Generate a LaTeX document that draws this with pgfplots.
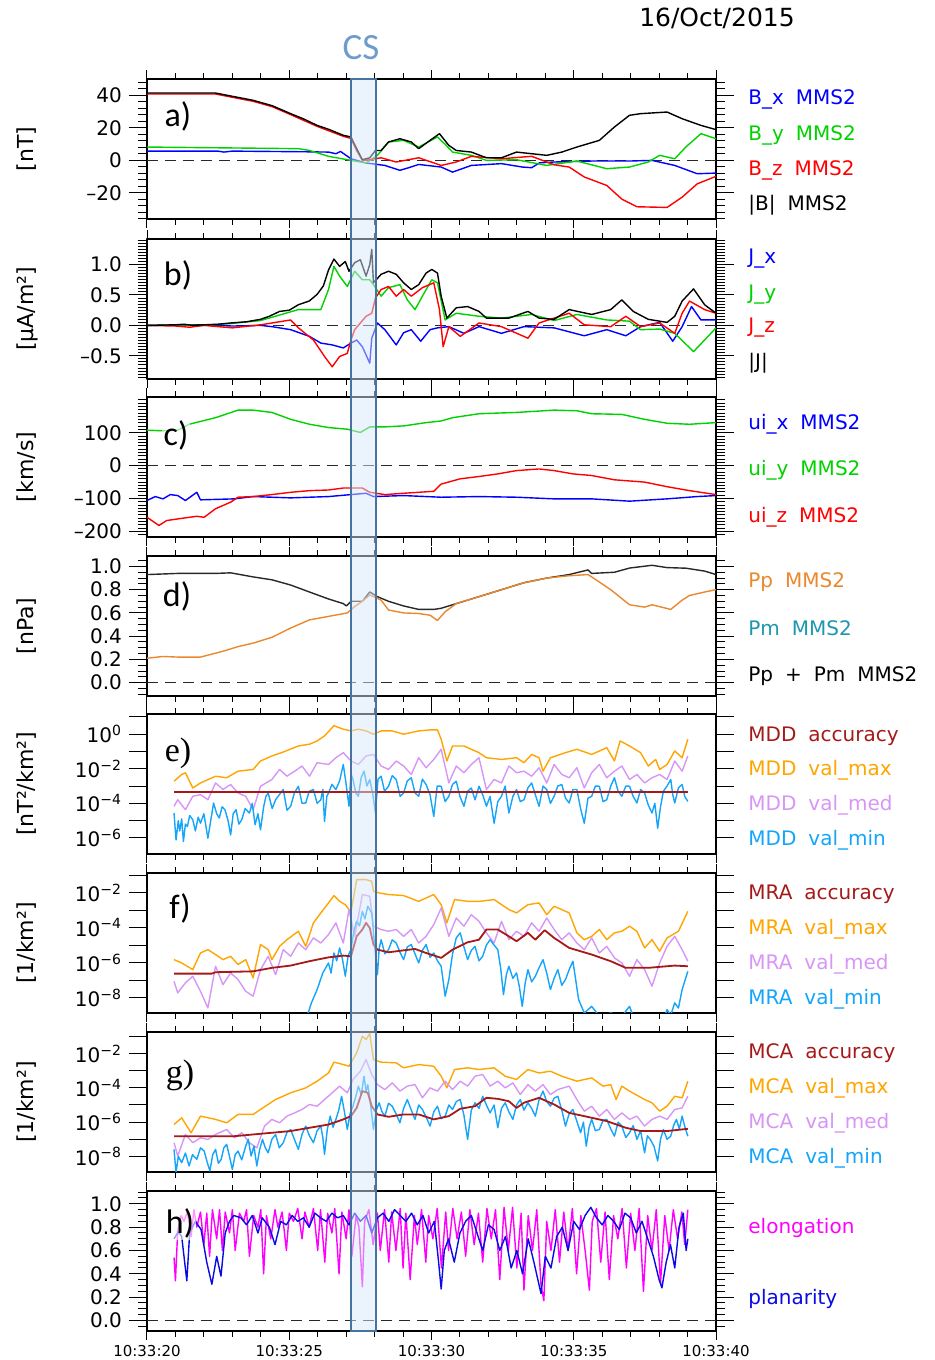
\documentclass[border=0pt]{standalone}
\usepackage{pgfplots}
\pgfplotsset{compat=1.18}
\usepackage{fontspec}
\setmainfont{DejaVu Sans}
\newfontfamily\carlito{Carlito}
\newfontfamily\lserif{Liberation Serif}
\definecolor{bblue}{RGB}{0,0,255}
\definecolor{bgreen}{RGB}{0,210,0}
\definecolor{bred}{RGB}{255,0,0}
\definecolor{pporange}{RGB}{235,135,45}
\definecolor{pmteal}{RGB}{30,150,175}
\definecolor{accred}{RGB}{165,25,25}
\definecolor{vmax}{RGB}{255,165,0}
\definecolor{vmed}{RGB}{215,150,245}
\definecolor{vmin}{RGB}{20,165,250}
\definecolor{elong}{RGB}{255,0,255}
\definecolor{plan}{RGB}{10,10,230}
\definecolor{csblue}{RGB}{70,115,160}
\definecolor{csfill}{RGB}{215,232,250}
\definecolor{cstext}{RGB}{110,155,205}
\definecolor{dgray}{RGB}{40,40,40}
\pgfplotsset{
 panel/.style={
  scale only axis, width=284.5pt, height=70pt,
  xmin=0, xmax=20,
  xtick={0,5,10,15,20},
  minor xtick={1,2,3,4,6,7,8,9,11,12,13,14,16,17,18,19},
  xticklabels={},
  tick align=outside,
  major tick length=9pt, minor tick length=4.5pt,
  xtick style={/pgfplots/major tick length=4.5pt,/pgfplots/minor tick length=3pt},
  every tick/.style={black, line width=0.5pt},
  axis line style={line width=0.8pt},
  yticklabel style={font=\fontsize{10}{12}\selectfont},
  xticklabel style={font=\fontsize{7.5}{9}\selectfont, yshift=5.5pt},
  ylabel style={at={(axis description cs:-0.2109,0.5)}, anchor=center, font=\fontsize{11}{13}\selectfont},
  no markers, line join=round,
  every axis plot/.append style={line width=0.7pt},
 },
 zeroline/.style={dgray, line width=0.8pt, dash pattern=on 5.5pt off 3.5pt},
 logpanel/.style={panel},
}
\newcommand{\lab}[3]{\node[anchor=west, inner sep=0pt, text=#1, font=\fontsize{10}{12}\selectfont] at (374pt,#2pt) {#3};}
\newcommand{\plet}[4]{\node[inner sep=1pt, fill=white, fill opacity=0.6, text opacity=1, font=#4\fontsize{17}{19}\selectfont] at (#1pt,#2pt) {#3};}
\begin{document}
\begin{tikzpicture}
\path[use as bounding box] (0,0) rectangle (467pt,680pt);

% ---------------- a
\begin{axis}[panel, at={(73.5pt,570.5pt)}, anchor=south west,
 ymin=-36, ymax=50, ytick={-20,0,20,40}, yticklabels={–20,0,20,40},
 minor ytick={-36,-32,...,48}, ylabel={[nT]}]
\addplot[zeroline] coordinates {(0,0) (20,0)};
\addplot[bblue] coordinates {(0,5.7)(2.5,5.7)(2.7,5.1)(3,5.7)(5.5,5.3)(6.38,5.1)(6.64,4.1)(6.8,5.5)(7.17,1)(7.70,-1.6)(8.36,-3.1)(8.89,-6.1)(9.2,-4.5)(9.55,-2.5)(10.34,-4.1)(10.74,-7.2)(11.40,-3.1)(12.46,-2)(13.2,-4.1)(13.52,-4.5)(13.8,-1.5)(14.31,-1)(15.63,-0.4)(16.96,-0.4)(17.75,0)(18.55,-3.1)(19.34,-8.2)(20,-7.8)};
\addplot[bgreen] coordinates {(0,8.2)(5.32,7.2)(5.71,6.1)(6.38,2.5)(7.17,0)(7.70,-1.6)(8.10,3.1)(8.49,11.3)(9.02,12.3)(9.55,8.2)(10.21,14.4)(10.5,9.5)(10.74,5.1)(11.40,3.1)(11.93,0)(12.99,0.4)(14.05,-3.1)(15.11,-0.4)(16.16,-5.1)(16.96,-4.1)(17.62,-1)(18.02,3.1)(18.55,1)(18.94,8.2)(19.47,16.4)(20,13.3)};
\addplot[bred] coordinates {(0,40.8)(2.4,40.8)(3.73,36.3)(4.4,33)(5.05,28.1)(5.98,20.9)(6.9,14.8)(7.17,13.5)(7.37,6)(7.57,0)(7.83,0.5)(8.23,1.6)(8.76,-1)(9.55,1.6)(10.34,-3.1)(10.87,-1)(11.40,2.5)(12.46,1)(13.52,2.5)(14.31,-2.7)(14.84,-4.1)(15.37,-10.2)(16.16,-15.4)(16.69,-23.8)(17.22,-28.5)(18.28,-28.9)(18.81,-22.6)(19.34,-14.4)(20,-9.8)};
\addplot[black] coordinates {(0,41.4)(2.4,41.4)(3.73,36.9)(4.4,33.6)(5.05,28.7)(5.5,25.5)(5.98,21.5)(6.4,19)(6.90,15.4)(7.17,14.4)(7.37,7.2)(7.57,0.4)(7.83,1.6)(8.03,6.1)(8.23,6.1)(8.49,11.3)(8.89,13.3)(9.29,11.3)(9.55,7.2)(9.95,12.3)(10.28,16.4)(10.61,9.2)(10.87,6.1)(11.40,5.1)(11.93,1.6)(12.46,1.6)(12.99,5.1)(13.52,4.1)(14.05,3.1)(14.58,5.1)(15.11,8.2)(15.90,12.3)(16.43,20.5)(16.96,27.7)(17.35,28.7)(18.28,29.7)(18.81,25.6)(19.47,21.5)(20,18.9)};
\end{axis}

% ---------------- b
\begin{axis}[panel, at={(73.5pt,490.5pt)}, anchor=south west,
 ymin=-0.88, ymax=1.42, ytick={-0.5,0,0.5,1}, yticklabels={–0.5,0.0,0.5,1.0},
 minor ytick={-0.85,-0.8,...,1.4}, ylabel={[μA/m²]}]
\addplot[zeroline] coordinates {(0,0) (20,0)};
\addplot[bblue] coordinates {(0,0)(2,0.01)(3,-0.01)(4,0)(4.39,-0.02)(5.05,-0.07)(5.71,-0.18)(6.11,-0.29)(6.51,-0.32)(6.90,-0.37)(7.17,-0.29)(7.37,-0.24)(7.57,-0.35)(7.83,-0.62)(7.90,-0.21)(8.10,0.04)(8.36,-0.07)(8.76,-0.32)(9.02,-0.12)(9.29,-0.07)(9.62,-0.26)(9.95,-0.07)(10.21,-0.04)(10.61,-0.02)(11.14,-0.13)(11.67,-0.02)(12.46,-0.13)(13.25,-0.02)(14.31,-0.04)(15.37,-0.17)(16.16,-0.07)(16.83,-0.17)(17.35,-0.02)(18.02,0.05)(18.48,-0.26)(18.81,-0.02)(19.14,0.31)(19.47,0.09)(20,0.09)};
\addplot[bgreen] coordinates {(0,0)(1,0.01)(2,0)(2.94,0.03)(3.99,0.08)(5.32,0.26)(6.11,0.26)(6.38,0.59)(6.57,0.97)(6.77,0.81)(7.04,0.64)(7.30,0.89)(7.57,0.75)(7.83,0.75)(7.96,0.67)(8.23,0.48)(8.49,0.62)(8.89,0.67)(9.15,0.42)(9.42,0.26)(9.68,0.48)(10.01,0.75)(10.21,0.70)(10.48,0.09)(10.87,0.2)(11.67,0.15)(12.46,0.12)(13.52,0.18)(14.31,0.08)(15.11,0.18)(16.16,0.09)(16.96,0.07)(17.35,-0.07)(18.02,-0.06)(18.55,-0.13)(19.21,-0.43)(19.60,-0.24)(20,-0.04)};
\addplot[bred] coordinates {(0,0)(1,-0.01)(1.5,-0.03)(2,0)(3,-0.04)(3.99,0.01)(4.39,0.04)(5.05,0.09)(5.32,-0.04)(5.85,-0.24)(6.24,-0.51)(6.51,-0.68)(6.77,-0.51)(7.04,-0.46)(7.17,-0.24)(7.30,-0.07)(7.70,0.15)(7.90,0.2)(8.03,0.45)(8.23,0.59)(8.49,0.64)(8.76,0.48)(9.02,0.59)(9.29,0.48)(9.68,0.62)(10.08,0.70)(10.28,0.26)(10.41,-0.35)(10.61,-0.02)(11.01,-0.18)(11.67,0.04)(12.46,-0.02)(13.39,-0.21)(13.78,0.04)(14.84,0.2)(15.37,0.01)(16.30,-0.02)(16.83,0.15)(17.35,-0.02)(18.02,0.04)(18.55,-0.13)(18.81,0.20)(19.07,0.4)(19.60,0.26)(20,0.2)};
\addplot[black] coordinates {(0,0)(1,0.01)(1.3,0.02)(1.6,0)(2,0.01)(2.5,0.02)(2.94,0.04)(3.5,0.06)(3.99,0.1)(4.3,0.15)(4.66,0.23)(5.0,0.25)(5.32,0.34)(5.7,0.4)(5.98,0.51)(6.2,0.65)(6.38,0.91)(6.57,1.09)(6.77,0.97)(6.97,1.05)(7.10,0.89)(7.30,1.03)(7.50,1.08)(7.70,0.81)(7.83,1.0)(7.90,1.25)(7.96,0.7)(8.23,0.84)(8.49,0.89)(8.76,0.84)(9.02,0.70)(9.29,0.59)(9.55,0.67)(9.81,0.86)(10.01,0.92)(10.21,0.86)(10.34,0.48)(10.54,0.12)(10.87,0.29)(11.27,0.31)(11.67,0.23)(11.93,0.12)(12.72,0.12)(13.39,0.23)(13.78,0.12)(14.31,0.1)(14.84,0.26)(15.63,0.18)(16.30,0.26)(16.69,0.42)(17.09,0.23)(17.62,0.1)(18.28,0.05)(18.55,0.15)(18.81,0.4)(19.21,0.60)(19.60,0.34)(20,0.2)};
\end{axis}

% ---------------- c
\begin{axis}[panel, at={(73.5pt,411.5pt)}, anchor=south west,
 ymin=-217, ymax=209, ytick={-200,-100,0,100}, yticklabels={–200,–100,0,100},
 minor ytick={-210,-200,...,200}, ylabel={[km/s]}]
\addplot[zeroline] coordinates {(0,0) (20,0)};
\addplot[bgreen] coordinates {(0,108)(0.56,106)(1.08,108)(1.48,126)(2.41,146)(3.20,169)(3.73,169)(4.39,162)(5.05,141)(5.71,126)(6.38,116)(7.04,111)(7.50,101)(7.83,118)(8.36,118)(9.02,121)(9.81,131)(10.34,136)(10.74,146)(11.67,158)(12.99,162)(14.31,169)(15.11,167)(15.63,158)(16.69,156)(17.49,141)(18.28,129)(19.07,126)(20,131)};
\addplot[bblue] coordinates {(0,-106)(0.29,-94)(0.56,-101)(0.82,-88)(1.08,-91)(1.35,-106)(1.75,-81)(1.88,-104)(3.07,-101)(3.73,-94)(5.05,-98)(6.38,-94)(7.70,-84)(7.96,-94)(9.02,-91)(10.34,-96)(11.67,-94)(12.99,-96)(14.31,-101)(15.63,-101)(16.96,-108)(18.28,-101)(19.34,-94)(20,-91)};
\addplot[bred] coordinates {(0,-157)(0.42,-182)(0.69,-167)(1.08,-162)(1.75,-154)(2.01,-157)(2.41,-131)(2.94,-111)(3.20,-96)(3.73,-94)(4.39,-88)(5.05,-81)(5.71,-76)(6.38,-74)(6.90,-68)(7.57,-68)(7.83,-81)(8.36,-88)(9.02,-84)(10.08,-78)(10.34,-56)(11.01,-40)(11.67,-33)(12.33,-25)(12.99,-15)(13.78,-10)(14.31,-15)(14.97,-25)(15.63,-30)(16.43,-43)(17.49,-50)(18.28,-64)(19.07,-76)(20,-88)};
\end{axis}

% ---------------- d
\begin{axis}[panel, at={(73.5pt,332pt)}, anchor=south west,
 ymin=-0.115, ymax=1.09, ytick={0,0.2,0.4,0.6,0.8,1}, yticklabels={0.0,0.2,0.4,0.6,0.8,1.0},
 minor ytick={-0.1,-0.05,...,1.06}, ylabel={[nPa]}]
\addplot[zeroline] coordinates {(0,0) (20,0)};
\addplot[dgray] coordinates {(0,0.93)(1.08,0.94)(2.41,0.94)(2.94,0.945)(3.73,0.91)(4.39,0.885)(5.05,0.84)(5.71,0.78)(6.38,0.72)(6.90,0.68)(7.01,0.66)(7.17,0.70)(7.57,0.70)(7.83,0.78)(8.10,0.74)(8.49,0.70)(9.02,0.66)(9.55,0.63)(10.08,0.63)(10.34,0.64)(10.87,0.68)(11.67,0.74)(12.46,0.80)(13.25,0.86)(14.05,0.90)(14.84,0.93)(15.50,0.97)(15.63,0.94)(16.43,0.95)(16.96,0.986)(17.75,1.01)(18.28,0.99)(18.94,0.985)(19.60,0.96)(20,0.93)};
\addplot[pporange] coordinates {(0,0.21)(0.56,0.225)(1.08,0.22)(1.88,0.22)(2.67,0.27)(3.20,0.31)(3.73,0.34)(4.39,0.39)(5.05,0.47)(5.71,0.54)(6.38,0.57)(7.04,0.60)(7.30,0.655)(7.57,0.70)(7.83,0.755)(8.23,0.71)(8.49,0.625)(9.02,0.60)(9.55,0.595)(9.95,0.58)(10.21,0.535)(10.48,0.61)(10.87,0.68)(11.67,0.74)(12.46,0.80)(13.25,0.86)(14.05,0.90)(14.84,0.92)(15.50,0.93)(15.63,0.91)(16.30,0.80)(16.96,0.67)(17.49,0.65)(17.75,0.67)(18.41,0.63)(18.81,0.71)(19.07,0.75)(19.60,0.78)(20,0.80)};
\end{axis}

% ---------------- e
\begin{axis}[logpanel, at={(73.5pt,253pt)}, anchor=south west,
 ymin=-6.93, ymax=1.17, ytick={-6,-5,-4,-3,-2,-1,0,1},
 yticklabels={10\textsuperscript{−6},,10\textsuperscript{−4},,10\textsuperscript{−2},,10\textsuperscript{0},},
 ylabel={[nT²/km²]}]
\addplot[vmax] coordinates {(0.95,-2.72)(1.22,-2.33)(1.35,-2.23)(1.61,-3.11)(1.88,-2.82)(2.41,-2.43)(2.80,-2.52)(3.20,-2.14)(3.73,-2.04)(3.99,-1.55)(4.39,-1.26)(4.79,-1.03)(5.32,-0.68)(5.71,-0.58)(5.98,-0.39)(6.24,-0.1)(6.57,0.49)(6.90,0.29)(7.17,0.19)(7.43,0.29)(7.70,0.19)(7.96,0)(8.23,0.19)(8.62,0.19)(9.02,0)(9.55,0.19)(9.95,0.25)(10.21,0.25)(10.34,-0.29)(10.54,-1.55)(10.74,-0.68)(11.14,-0.68)(11.67,-1.07)(11.93,-1.36)(12.46,-1.46)(12.99,-1.36)(13.25,-1.65)(13.52,-1.17)(13.78,-1.36)(13.92,-2.14)(14.18,-1.36)(14.71,-1.07)(15.11,-0.87)(15.63,-1.17)(16.16,-0.78)(16.43,-1.55)(16.63,-0.39)(16.96,-0.68)(17.35,-1.07)(17.62,-1.84)(17.88,-1.46)(18.02,-2.04)(18.28,-1.75)(18.55,-0.97)(18.81,-1.36)(19.01,-0.29)};
\addplot[vmed] coordinates {(0.95,-4.17)(1.08,-3.79)(1.35,-4.37)(1.61,-3.59)(1.88,-3.50)(2.14,-3.79)(2.41,-2.82)(2.67,-3.20)(2.94,-2.91)(3.20,-3.40)(3.47,-3.59)(3.73,-4.37)(3.99,-3.01)(4.39,-2.62)(4.66,-2.04)(4.92,-2.43)(5.19,-2.14)(5.45,-1.84)(5.71,-2.43)(5.98,-1.65)(6.38,-1.75)(6.64,-1.36)(6.90,-1.07)(7.17,-1.55)(7.43,-1.75)(7.70,-1.26)(7.96,-1.17)(8.23,-1.84)(8.49,-2.04)(8.76,-1.55)(9.02,-1.84)(9.29,-2.33)(9.55,-1.36)(9.81,-1.94)(10.08,-1.46)(10.34,-0.87)(10.61,-2.82)(10.87,-1.84)(11.14,-2.23)(11.40,-1.75)(11.67,-1.36)(11.93,-3.20)(12.20,-2.62)(12.46,-2.82)(12.72,-1.84)(12.99,-2.23)(13.25,-2.14)(13.52,-2.43)(13.78,-1.94)(14.05,-2.82)(14.31,-1.75)(14.58,-2.33)(14.84,-2.52)(15.11,-1.94)(15.37,-3.11)(15.63,-2.23)(15.90,-1.75)(16.16,-2.52)(16.43,-2.14)(16.69,-1.84)(16.96,-2.62)(17.22,-2.33)(17.49,-2.82)(17.75,-2.52)(18.02,-2.33)(18.28,-2.62)(18.55,-1.55)(18.81,-2.14)(19.01,-1.26)};
\addplot[vmin] coordinates {(0.95,-4.56)(1.02,-6.12)(1.1,-5.0)(1.15,-5.6)(1.22,-4.9)(1.28,-6.21)(1.35,-5.2)(1.42,-5.34)(1.5,-4.7)(1.61,-4.95)(1.7,-5.6)(1.8,-4.8)(1.88,-5.15)(2.0,-4.6)(2.14,-6.02)(2.25,-4.9)(2.34,-3.98)(2.45,-4.6)(2.54,-4.85)(2.64,-4.2)(2.74,-4.37)(2.85,-5.0)(2.94,-5.83)(3.03,-4.6)(3.13,-4.37)(3.23,-5.2)(3.33,-4.95)(3.45,-4.3)(3.60,-4.56)(3.7,-4.0)(3.80,-5.24)(3.9,-4.6)(3.99,-5.53)(4.1,-4.2)(4.18,-3.6)(4.26,-3.40)(4.4,-4.3)(4.52,-3.79)(4.65,-3.5)(4.79,-3.20)(4.92,-4.4)(5.05,-4.17)(5.18,-3.4)(5.32,-3.01)(5.45,-4.0)(5.58,-3.98)(5.7,-3.3)(5.85,-3.20)(5.98,-4.0)(6.11,-3.79)(6.18,-3.2)(6.24,-5.05)(6.32,-3.6)(6.38,-3.40)(6.5,-2.9)(6.64,-3.20)(6.77,-2.7)(6.90,-1.75)(7.0,-2.9)(7.10,-4.17)(7.17,-2.3)(7.24,-2.62)(7.34,-3.4)(7.43,-3.59)(7.53,-2.5)(7.63,-2.14)(7.73,-3.0)(7.83,-2.62)(7.93,-3.4)(8.03,-4.56)(8.12,-2.6)(8.23,-2.43)(8.35,-3.3)(8.49,-3.01)(8.62,-2.4)(8.76,-2.62)(8.9,-3.6)(9.02,-3.40)(9.15,-2.7)(9.29,-2.52)(9.42,-3.4)(9.55,-3.59)(9.68,-2.6)(9.81,-2.91)(9.95,-3.5)(10.08,-4.76)(10.2,-3.0)(10.34,-3.01)(10.48,-3.9)(10.61,-3.59)(10.74,-2.9)(10.87,-2.72)(11.0,-3.6)(11.14,-4.17)(11.27,-3.3)(11.40,-3.11)(11.53,-3.8)(11.67,-3.01)(11.8,-3.5)(11.93,-4.17)(12.06,-3.6)(12.20,-5.15)(12.33,-3.9)(12.46,-3.59)(12.59,-3.0)(12.72,-4.56)(12.86,-3.6)(12.99,-3.20)(13.12,-3.9)(13.25,-3.79)(13.39,-3.1)(13.52,-2.82)(13.65,-3.5)(13.78,-4.17)(13.92,-3.0)(14.05,-3.20)(14.18,-4.0)(14.31,-3.59)(14.44,-3.0)(14.58,-2.91)(14.71,-3.7)(14.84,-3.98)(14.97,-3.2)(15.11,-3.20)(15.24,-4.3)(15.37,-5.15)(15.5,-3.7)(15.63,-3.59)(15.76,-3.0)(15.90,-3.01)(16.03,-3.9)(16.16,-3.79)(16.3,-3.0)(16.43,-2.52)(16.56,-3.3)(16.69,-3.59)(16.83,-3.0)(16.96,-3.01)(17.09,-3.6)(17.22,-3.98)(17.35,-3.2)(17.49,-3.40)(17.62,-4.1)(17.75,-4.56)(17.85,-4.0)(17.95,-5.44)(18.05,-4.2)(18.15,-3.30)(18.28,-3.0)(18.41,-2.62)(18.48,-3.5)(18.55,-3.98)(18.68,-3.1)(18.81,-2.91)(18.9,-3.6)(19.01,-3.89)};
\addplot[accred, line width=0.9pt] coordinates {(0.95,-3.34)(19.01,-3.34)};
\end{axis}

% ---------------- f
\begin{axis}[logpanel, at={(73.5pt,173.5pt)}, anchor=south west,
 ymin=-8.88, ymax=-0.88, ytick={-8,-7,-6,-5,-4,-3,-2,-1},
 yticklabels={10\textsuperscript{−8},,10\textsuperscript{−6},,10\textsuperscript{−4},,10\textsuperscript{−2},},
 ylabel={[1/km²]}]
\addplot[vmax] coordinates {(0.95,-5.83)(1.22,-6.02)(1.61,-6.40)(1.88,-5.45)(2.14,-5.26)(2.41,-5.54)(2.67,-5.83)(2.94,-5.64)(3.20,-6.11)(3.47,-5.83)(3.73,-6.88)(3.99,-4.97)(4.26,-5.26)(4.39,-5.83)(4.66,-5.07)(4.92,-4.69)(5.32,-4.21)(5.58,-5.07)(5.85,-3.73)(6.11,-3.16)(6.38,-2.59)(6.57,-2.17)(6.77,-2.50)(6.97,-2.69)(7.17,-3.12)(7.37,-1.26)(7.70,-1.26)(7.90,-1.35)(7.96,-1.92)(8.16,-2.02)(8.49,-2.11)(9.02,-2.17)(9.55,-2.50)(10.08,-2.11)(10.34,-2.69)(10.54,-3.73)(10.81,-2.40)(11.27,-2.50)(11.67,-2.50)(12.20,-2.40)(12.72,-2.97)(12.99,-3.16)(13.39,-2.69)(13.78,-2.59)(14.05,-3.26)(14.31,-2.78)(14.84,-3.16)(15.11,-4.30)(15.37,-4.69)(15.63,-4.50)(15.90,-4.11)(16.16,-4.69)(16.43,-4.30)(16.69,-4.21)(16.96,-3.92)(17.22,-4.21)(17.49,-5.16)(17.75,-4.69)(18.02,-5.35)(18.28,-4.59)(18.68,-4.21)(19.01,-3.07)};
\addplot[vmed] coordinates {(0.95,-7.07)(1.08,-7.73)(1.35,-7.16)(1.61,-6.78)(1.88,-7.64)(2.14,-8.59)(2.41,-6.21)(2.67,-7.26)(2.94,-6.59)(3.20,-6.97)(3.47,-7.64)(3.73,-7.92)(3.99,-6.40)(4.26,-5.64)(4.52,-6.69)(4.79,-5.26)(5.05,-5.64)(5.32,-4.88)(5.58,-5.26)(5.85,-4.59)(6.11,-4.88)(6.38,-4.40)(6.64,-3.73)(6.90,-4.88)(7.10,-2.97)(7.30,-4.50)(7.57,-2.11)(7.83,-2.21)(7.96,-3.92)(8.23,-4.11)(8.49,-4.21)(8.76,-4.11)(9.02,-4.50)(9.29,-4.11)(9.55,-4.88)(9.81,-4.50)(10.08,-3.83)(10.34,-2.88)(10.61,-4.50)(10.87,-3.45)(11.14,-3.92)(11.40,-3.26)(11.67,-3.64)(11.93,-4.30)(12.20,-4.88)(12.46,-3.64)(12.72,-4.69)(12.99,-4.21)(13.25,-4.50)(13.52,-3.73)(13.78,-4.21)(14.05,-3.45)(14.31,-4.11)(14.58,-4.69)(14.84,-4.30)(15.11,-4.88)(15.37,-5.26)(15.63,-4.59)(15.90,-5.45)(16.16,-5.07)(16.43,-5.73)(16.69,-6.02)(16.96,-6.78)(17.22,-5.83)(17.49,-6.40)(17.75,-7.35)(18.02,-6.02)(18.28,-5.07)(18.55,-4.50)(18.81,-5.26)(19.01,-5.92)};
\addplot[vmin] coordinates {(5.58,-9.3)(5.78,-8.30)(5.98,-7.54)(6.18,-6.59)(6.38,-6.02)(6.47,-6.6)(6.57,-5.45)(6.67,-5.9)(6.77,-5.16)(6.87,-5.8)(6.97,-6.78)(7.07,-5.6)(7.17,-5.26)(7.27,-4.2)(7.37,-3.64)(7.47,-3.9)(7.57,-3.07)(7.66,-3.5)(7.76,-2.78)(7.90,-3.16)(8.0,-5.0)(8.10,-6.69)(8.16,-5.2)(8.23,-4.69)(8.36,-5.5)(8.49,-5.26)(8.62,-4.7)(8.76,-4.88)(8.89,-5.4)(9.02,-5.83)(9.15,-5.1)(9.29,-4.97)(9.42,-5.5)(9.55,-6.02)(9.68,-5.3)(9.81,-4.97)(9.95,-5.7)(10.08,-5.45)(10.21,-5.9)(10.34,-6.21)(10.48,-7.92)(10.61,-6.97)(10.74,-5.5)(10.87,-4.59)(11.01,-4.30)(11.14,-5.1)(11.27,-5.83)(11.4,-5.3)(11.53,-5.07)(11.67,-5.9)(11.80,-5.64)(11.93,-5.0)(12.06,-4.69)(12.2,-5.0)(12.33,-5.26)(12.43,-6.3)(12.53,-7.83)(12.63,-6.7)(12.72,-6.21)(12.86,-6.9)(12.99,-6.59)(13.09,-7.4)(13.19,-8.50)(13.29,-7.2)(13.39,-6.40)(13.52,-7.1)(13.65,-6.78)(13.78,-6.3)(13.92,-5.83)(14.05,-6.6)(14.18,-7.54)(14.31,-6.9)(14.44,-6.40)(14.58,-7.3)(14.71,-6.97)(14.84,-6.4)(14.97,-5.92)(15.07,-7.0)(15.17,-8.11)(15.37,-8.88)(15.63,-8.50)(15.90,-9.07)(16.30,-8.88)(16.69,-9.07)(16.96,-8.50)(17.09,-9.07)(17.35,-9.26)(18.15,-9.26)(18.28,-8.69)(18.41,-9.0)(18.55,-8.30)(18.68,-8.6)(18.81,-7.54)(19.01,-6.50)};
\addplot[accred, line width=0.9pt] coordinates {(0.95,-6.63)(2.28,-6.63)(2.41,-6.55)(3.73,-6.50)(4.39,-6.30)(5.05,-6.17)(5.71,-5.92)(6.38,-5.70)(6.90,-5.60)(7.17,-5.64)(7.37,-4.50)(7.57,-4.11)(7.70,-3.73)(7.83,-4.02)(7.96,-4.97)(8.10,-5.26)(8.49,-5.41)(9.02,-5.30)(9.42,-5.22)(9.81,-5.45)(10.34,-5.73)(10.74,-5.26)(11.27,-4.84)(11.67,-4.69)(11.93,-4.11)(12.33,-4.11)(12.72,-4.50)(12.99,-4.78)(13.39,-4.30)(13.65,-4.69)(13.98,-4.15)(14.31,-4.59)(14.84,-5.16)(15.63,-5.54)(16.30,-5.92)(16.83,-6.30)(17.62,-6.30)(18.55,-6.17)(19.01,-6.21)};
\end{axis}

% ---------------- g
\begin{axis}[logpanel, at={(73.5pt,94pt)}, anchor=south west,
 ymin=-8.91, ymax=-0.74, ytick={-8,-7,-6,-5,-4,-3,-2,-1},
 yticklabels={10\textsuperscript{−8},,10\textsuperscript{−6},,10\textsuperscript{−4},,10\textsuperscript{−2},},
 ylabel={[1/km²]}]
\addplot[vmax] coordinates {(0.95,-6.14)(1.22,-5.75)(1.55,-6.62)(1.88,-5.65)(2.41,-5.84)(2.80,-6.04)(3.20,-5.55)(3.73,-5.55)(3.99,-5.26)(4.52,-4.68)(5.05,-4.29)(5.58,-4.0)(5.98,-3.61)(6.38,-3.13)(6.57,-2.50)(6.90,-2.64)(7.10,-2.74)(7.37,-1.96)(7.57,-0.99)(7.70,-1.18)(7.83,-0.83)(7.96,-2.35)(8.23,-2.50)(8.76,-2.54)(9.02,-2.83)(9.55,-2.64)(10.08,-2.74)(10.34,-3.32)(10.54,-4.0)(10.81,-2.93)(11.27,-2.83)(11.67,-2.93)(12.20,-2.83)(12.59,-3.32)(12.99,-3.51)(13.39,-2.93)(13.78,-3.13)(14.18,-3.03)(14.58,-3.32)(15.11,-3.61)(15.63,-3.42)(16.03,-3.90)(16.30,-3.81)(16.49,-4.68)(16.69,-3.90)(16.96,-4.19)(17.49,-4.68)(17.75,-4.87)(18.02,-5.36)(18.28,-5.07)(18.55,-4.49)(18.81,-4.58)(19.01,-3.61)};
\addplot[vmed] coordinates {(0.95,-7.20)(1.08,-7.98)(1.35,-6.72)(1.61,-7.20)(1.88,-6.91)(2.14,-7.01)(2.41,-6.72)(2.80,-6.43)(3.07,-6.91)(3.33,-6.62)(3.60,-7.20)(3.86,-7.50)(4.13,-6.23)(4.39,-5.84)(4.66,-6.04)(4.92,-5.65)(5.19,-5.46)(5.45,-5.26)(5.71,-4.97)(5.98,-5.07)(6.24,-4.68)(6.51,-4.29)(6.77,-3.90)(7.04,-4.29)(7.24,-3.51)(7.50,-3.03)(7.70,-2.35)(7.90,-3.22)(8.10,-3.81)(8.36,-4.10)(8.62,-3.71)(8.89,-4.19)(9.15,-3.90)(9.42,-3.81)(9.68,-4.58)(9.95,-4.0)(10.21,-4.19)(10.48,-3.61)(10.74,-4.10)(11.01,-3.61)(11.27,-3.90)(11.53,-3.32)(11.80,-3.22)(12.06,-3.90)(12.33,-3.61)(12.59,-4.0)(12.86,-3.71)(13.12,-4.39)(13.39,-3.81)(13.65,-4.19)(13.92,-3.81)(14.18,-4.39)(14.44,-4.10)(14.84,-3.90)(15.11,-4.68)(15.37,-5.36)(15.63,-5.07)(15.90,-5.65)(16.16,-5.26)(16.43,-5.84)(16.69,-5.46)(16.96,-5.84)(17.22,-5.65)(17.49,-6.23)(17.75,-5.84)(18.02,-5.65)(18.28,-5.84)(18.55,-5.26)(18.81,-5.17)(19.01,-4.49)};
\addplot[vmin] coordinates {(0.95,-7.59)(1.02,-8.95)(1.1,-8.0)(1.22,-8.37)(1.35,-7.8)(1.48,-8.56)(1.6,-7.9)(1.75,-8.17)(1.88,-7.5)(2.01,-7.69)(2.11,-8.3)(2.21,-8.85)(2.31,-7.9)(2.41,-7.59)(2.51,-8.4)(2.61,-8.17)(2.7,-7.5)(2.80,-7.30)(2.9,-8.0)(3.0,-8.76)(3.1,-7.9)(3.20,-7.69)(3.33,-8.2)(3.47,-7.40)(3.56,-7.0)(3.66,-7.98)(3.76,-7.4)(3.86,-8.56)(3.96,-7.6)(4.06,-7.01)(4.16,-7.5)(4.26,-7.79)(4.39,-7.0)(4.52,-6.72)(4.65,-7.5)(4.79,-7.20)(4.92,-6.6)(5.05,-6.43)(5.18,-7.0)(5.32,-7.59)(5.45,-6.7)(5.58,-6.23)(5.71,-6.8)(5.85,-7.20)(5.98,-6.5)(6.11,-6.23)(6.18,-6.9)(6.24,-7.88)(6.34,-6.4)(6.44,-5.65)(6.54,-6.3)(6.64,-5.84)(6.74,-5.3)(6.84,-4.49)(6.94,-5.4)(7.04,-6.43)(7.14,-5.5)(7.24,-5.07)(7.34,-4.5)(7.43,-3.90)(7.53,-4.4)(7.63,-3.32)(7.70,-4.2)(7.76,-3.81)(7.86,-5.0)(7.96,-6.43)(8.06,-5.3)(8.16,-4.87)(8.26,-5.4)(8.36,-5.65)(8.49,-4.9)(8.62,-5.07)(8.75,-5.5)(8.89,-6.04)(9.02,-5.2)(9.15,-4.68)(9.29,-5.3)(9.42,-5.84)(9.55,-5.0)(9.68,-5.26)(9.81,-5.7)(9.95,-6.23)(10.08,-5.4)(10.21,-5.07)(10.34,-5.8)(10.48,-5.65)(10.61,-5.0)(10.74,-5.26)(10.87,-4.8)(11.01,-4.68)(11.14,-5.6)(11.27,-7.01)(11.4,-5.3)(11.53,-4.87)(11.67,-5.2)(11.80,-4.49)(11.93,-5.0)(12.06,-5.46)(12.2,-5.0)(12.33,-6.33)(12.46,-5.2)(12.59,-4.87)(12.72,-5.4)(12.86,-5.84)(12.99,-5.0)(13.12,-4.68)(13.25,-5.3)(13.39,-4.87)(13.52,-5.2)(13.65,-5.65)(13.78,-4.7)(13.92,-4.19)(14.05,-4.8)(14.18,-5.07)(14.31,-4.6)(14.44,-4.49)(14.58,-5.3)(14.71,-6.23)(14.84,-5.5)(14.97,-5.26)(15.1,-5.9)(15.24,-6.62)(15.34,-6.0)(15.44,-7.40)(15.54,-6.3)(15.63,-5.84)(15.76,-6.5)(15.90,-6.43)(16.03,-5.9)(16.16,-5.84)(16.3,-6.4)(16.43,-6.82)(16.56,-6.0)(16.69,-6.23)(16.83,-6.9)(16.96,-6.62)(17.09,-6.2)(17.22,-7.01)(17.35,-6.5)(17.49,-7.79)(17.59,-6.8)(17.69,-7.01)(17.82,-7.4)(17.95,-8.27)(18.05,-7.0)(18.15,-6.43)(18.28,-7.0)(18.41,-6.82)(18.51,-6.2)(18.61,-5.84)(18.71,-6.4)(18.81,-5.65)(18.91,-6.3)(19.01,-6.82)};
\addplot[accred, line width=0.9pt] coordinates {(0.95,-6.82)(3.07,-6.82)(3.73,-6.72)(5.05,-6.52)(5.71,-6.33)(6.38,-6.14)(6.90,-5.84)(7.17,-5.65)(7.37,-5.17)(7.57,-4.19)(7.76,-4.29)(7.90,-5.07)(8.10,-5.55)(8.49,-5.69)(9.02,-5.55)(9.55,-5.55)(10.08,-5.84)(10.61,-5.65)(11.01,-5.22)(11.53,-5.07)(11.93,-4.58)(12.33,-4.64)(12.72,-4.78)(12.99,-5.17)(13.25,-4.87)(13.78,-4.58)(14.31,-4.97)(14.84,-5.46)(15.37,-5.65)(16.16,-5.94)(16.83,-6.33)(17.35,-6.52)(18.28,-6.52)(19.01,-6.39)};
\end{axis}

% ---------------- h
\begin{axis}[panel, at={(73.5pt,14.5pt)}, anchor=south west,
 ymin=-0.09, ymax=1.11, ytick={0,0.2,0.4,0.6,0.8,1}, yticklabels={0.0,0.2,0.4,0.6,0.8,1.0},
 minor ytick={-0.05,0,...,1.1},
 xticklabels={10:33:20,10:33:25,10:33:30,10:33:35,10:33:40}]
\addplot[zeroline] coordinates {(0,0) (20,0)};
\addplot[elong] coordinates {(0.95,0.54)(1.0,0.34)(1.08,0.77)(1.2,0.9)(1.3,0.85)(1.42,0.93)(1.55,0.72)(1.65,0.95)(1.75,0.8)(1.88,0.93)(2.0,0.65)(2.1,0.92)(2.2,0.55)(2.3,0.95)(2.45,0.7)(2.55,0.95)(2.65,0.6)(2.75,0.93)(2.9,0.75)(3.0,0.95)(3.1,0.6)(3.25,0.92)(3.4,0.85)(3.5,0.95)(3.6,0.55)(3.75,0.9)(3.9,0.8)(4.0,0.95)(4.1,0.4)(4.2,0.9)(4.35,0.7)(4.5,0.95)(4.6,0.8)(4.75,0.93)(4.9,0.6)(5.0,0.92)(5.15,0.85)(5.3,0.96)(5.45,0.7)(5.55,0.93)(5.7,0.8)(5.85,0.96)(6.0,0.6)(6.1,0.95)(6.25,0.5)(6.35,0.92)(6.5,0.75)(6.6,0.96)(6.75,0.4)(6.85,0.93)(7.0,0.7)(7.1,0.95)(7.2,0.55)(7.35,0.9)(7.45,0.8)(7.57,0.29)(7.65,0.85)(7.8,0.95)(7.95,0.65)(8.1,0.92)(8.2,0.6)(8.35,0.95)(8.5,0.5)(8.6,0.93)(8.75,0.6)(8.9,0.96)(9.0,0.45)(9.1,0.92)(9.25,0.35)(9.4,0.9)(9.5,0.65)(9.65,0.95)(9.8,0.5)(9.9,0.9)(10.05,0.7)(10.2,0.96)(10.35,0.45)(10.5,0.93)(10.6,0.6)(10.75,0.96)(10.9,0.7)(11.05,0.93)(11.2,0.55)(11.35,0.95)(11.5,0.65)(11.65,0.92)(11.8,0.5)(11.95,0.96)(12.1,0.7)(12.25,0.95)(12.4,0.35)(12.55,0.97)(12.7,0.6)(12.85,0.97)(13.0,0.45)(13.15,0.92)(13.25,0.26)(13.4,0.9)(13.55,0.6)(13.7,0.95)(13.85,0.3)(13.95,0.17)(14.05,0.85)(14.2,0.6)(14.35,0.95)(14.5,0.5)(14.65,0.93)(14.8,0.6)(14.95,0.96)(15.1,0.4)(15.25,0.9)(15.4,0.6)(15.55,0.26)(15.65,0.85)(15.8,0.96)(15.95,0.5)(16.1,0.93)(16.25,0.35)(16.4,0.9)(16.55,0.7)(16.7,0.96)(16.85,0.45)(17.0,0.92)(17.15,0.6)(17.3,0.96)(17.45,0.25)(17.6,0.9)(17.75,0.6)(17.9,0.95)(18.05,0.32)(18.2,0.9)(18.35,0.6)(18.5,0.95)(18.65,0.7)(18.8,0.93)(18.9,0.65)(19.01,0.95)};
\addplot[plan] coordinates {(0.95,0.7)(1.1,0.76)(1.22,0.72)(1.4,0.34)(1.5,0.75)(1.7,0.85)(1.9,0.78)(2.1,0.5)(2.28,0.31)(2.45,0.55)(2.6,0.38)(2.75,0.75)(2.9,0.85)(3.05,0.9)(3.3,0.88)(3.5,0.82)(3.7,0.9)(3.9,0.75)(4.05,0.88)(4.3,0.8)(4.5,0.65)(4.7,0.85)(4.9,0.82)(5.1,0.9)(5.3,0.85)(5.5,0.88)(5.7,0.8)(5.9,0.92)(6.1,0.88)(6.3,0.85)(6.5,0.92)(6.7,0.88)(6.9,0.9)(7.1,0.82)(7.3,0.92)(7.5,0.85)(7.7,0.9)(7.9,0.75)(8.1,0.88)(8.3,0.92)(8.5,0.85)(8.7,0.95)(8.9,0.9)(9.1,0.85)(9.3,0.92)(9.5,0.82)(9.7,0.9)(9.9,0.75)(10.1,0.85)(10.25,0.5)(10.34,0.27)(10.45,0.6)(10.6,0.7)(10.8,0.5)(11.0,0.75)(11.2,0.85)(11.4,0.9)(11.6,0.75)(11.8,0.6)(12.0,0.82)(12.2,0.78)(12.4,0.6)(12.6,0.72)(12.8,0.45)(13.0,0.6)(13.2,0.4)(13.4,0.7)(13.6,0.5)(13.85,0.23)(14.0,0.55)(14.2,0.45)(14.4,0.72)(14.6,0.8)(14.8,0.6)(15.0,0.85)(15.2,0.78)(15.4,0.9)(15.6,0.97)(15.8,0.88)(16.0,0.82)(16.2,0.9)(16.4,0.85)(16.6,0.78)(16.8,0.92)(17.0,0.88)(17.2,0.75)(17.4,0.85)(17.6,0.7)(17.8,0.55)(18.0,0.35)(18.1,0.28)(18.25,0.5)(18.4,0.65)(18.55,0.45)(18.7,0.8)(18.85,0.92)(18.95,0.6)(19.01,0.7)};
\end{axis}

% CS band
\fill[csfill, fill opacity=0.5] (175.5pt,14.5pt) rectangle (188pt,640.5pt);
\draw[csblue, line width=1.1pt] (175.5pt,14.5pt) rectangle (188pt,640.5pt);
\node[text=cstext, font=\carlito\fontsize{18.5}{20}\selectfont] at (180.5pt,656pt) {CS};
\node[font=\fontsize{12.5}{14}\selectfont] at (358.5pt,671pt) {16/Oct/2015};

% panel letters
\plet{89}{622}{a)}{\carlito}
\plet{89}{542.5}{b)}{\carlito}
\plet{88}{462.5}{c)}{\carlito}
\plet{88.5}{382}{d)}{\carlito}
\plet{89}{303.5}{e)}{\lserif}
\plet{90}{226}{f)}{\carlito}
\plet{90}{142.5}{g)}{\lserif}
\plet{90}{68.5}{h)}{\carlito}

% right labels
\lab{bblue}{630.5}{B\_x\hspace{0.6em}MMS2}
\lab{bgreen}{612.5}{B\_y\hspace{0.6em}MMS2}
\lab{bred}{595}{B\_z\hspace{0.6em}MMS2}
\lab{black}{577.5}{|B|\hspace{0.6em}MMS2}
\lab{bblue}{550.5}{J\_x}
\lab{bgreen}{532.5}{J\_y}
\lab{bred}{516}{J\_z}
\lab{black}{498.5}{|J|}
\lab{bblue}{468}{ui\_x\hspace{0.6em}MMS2}
\lab{bgreen}{445}{ui\_y\hspace{0.6em}MMS2}
\lab{bred}{421.5}{ui\_z\hspace{0.6em}MMS2}
\lab{pporange}{389}{Pp\hspace{0.6em}MMS2}
\lab{pmteal}{366}{Pm\hspace{0.6em}MMS2}
\lab{black}{342}{Pp\hspace{0.6em}+\hspace{0.6em}Pm\hspace{0.6em}MMS2}
\lab{accred}{312}{MDD\hspace{0.6em}accuracy}
\lab{vmax}{295}{MDD\hspace{0.6em}val\_max}
\lab{vmed}{277.5}{MDD\hspace{0.6em}val\_med}
\lab{vmin}{260}{MDD\hspace{0.6em}val\_min}
\lab{accred}{233}{MRA\hspace{0.6em}accuracy}
\lab{vmax}{215.5}{MRA\hspace{0.6em}val\_max}
\lab{vmed}{198}{MRA\hspace{0.6em}val\_med}
\lab{vmin}{180.5}{MRA\hspace{0.6em}val\_min}
\lab{accred}{153.5}{MCA\hspace{0.6em}accuracy}
\lab{vmax}{136}{MCA\hspace{0.6em}val\_max}
\lab{vmed}{118.5}{MCA\hspace{0.6em}val\_med}
\lab{vmin}{101}{MCA\hspace{0.6em}val\_min}
\lab{elong}{66}{elongation}
\lab{plan}{30.5}{planarity}
\end{tikzpicture}
\end{document}
